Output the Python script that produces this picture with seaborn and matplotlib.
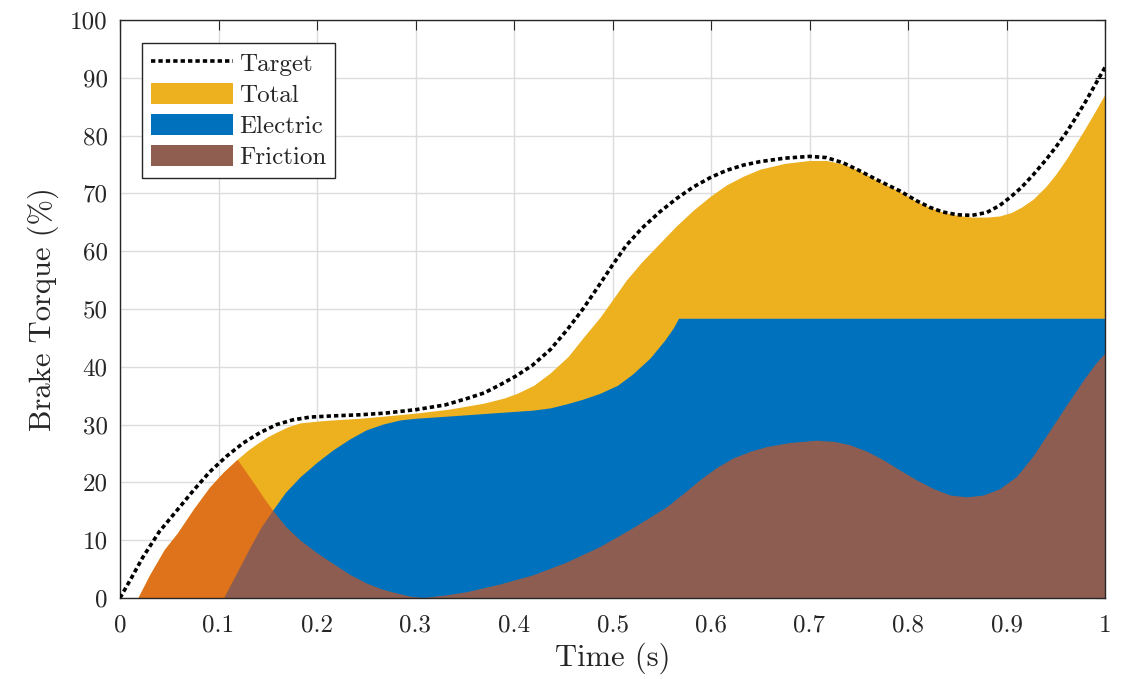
import numpy as np
import pandas as pd
import seaborn as sns
import matplotlib
matplotlib.use("Agg")
import matplotlib.pyplot as plt
from matplotlib.lines import Line2D
from matplotlib.patches import Patch

# ---- brake torque demand (%) over time (s) ----
t_target = [0.0, 0.012, 0.023, 0.04, 0.058, 0.075, 0.091, 0.108, 0.125, 0.142,
            0.159, 0.175, 0.193, 0.215, 0.244, 0.27, 0.301, 0.33, 0.352, 0.37,
            0.386, 0.402, 0.419, 0.437, 0.4535, 0.47, 0.484, 0.5, 0.514, 0.53,
            0.548, 0.565, 0.582, 0.6, 0.616, 0.633, 0.65, 0.675, 0.70, 0.717,
            0.734, 0.75, 0.768, 0.792, 0.809, 0.822, 0.835, 0.85, 0.865, 0.88,
            0.893, 0.905, 0.915, 0.927, 0.94, 0.95, 0.961, 0.97, 0.98, 0.99, 1.0]
target = [0.0, 3.6, 7.0, 11.5, 15.2, 18.7, 21.8, 24.5, 26.8, 28.6,
          30.0, 30.8, 31.3, 31.5, 31.7, 32.0, 32.6, 33.4, 34.5, 35.5,
          36.9, 38.4, 40.3, 43.0, 46.3, 50.0, 53.5, 57.6, 61.0, 64.0,
          66.8, 69.1, 71.1, 72.8, 74.0, 74.9, 75.5, 76.1, 76.4, 76.2,
          75.3, 74.0, 72.4, 70.4, 68.7, 67.6, 66.8, 66.3, 66.2, 66.7,
          67.9, 69.5, 71.0, 73.2, 75.8, 78.0, 80.6, 83.0, 85.8, 88.8, 91.8]

# ---- delivered total torque ----
t_total = [0.018, 0.03, 0.045, 0.058, 0.075, 0.091, 0.105, 0.119, 0.13, 0.14,
           0.15, 0.159, 0.17, 0.183, 0.2, 0.215, 0.244, 0.27, 0.301, 0.335,
           0.369, 0.39, 0.403, 0.42, 0.4365, 0.455, 0.47, 0.487, 0.5, 0.514,
           0.53, 0.548, 0.565, 0.582, 0.6, 0.616, 0.633, 0.65, 0.675, 0.70,
           0.717, 0.734, 0.75, 0.768, 0.792, 0.809, 0.822, 0.835, 0.85, 0.865,
           0.88, 0.893, 0.905, 0.915, 0.927, 0.94, 0.95, 0.961, 0.97, 0.98,
           0.99, 1.0]
total = [0.0, 4.0, 8.4, 11.2, 15.5, 19.2, 21.8, 24.0, 25.6, 26.8,
         27.9, 28.7, 29.6, 30.3, 30.6, 30.8, 31.1, 31.5, 32.0, 32.7,
         33.7, 34.6, 35.4, 36.8, 38.9, 41.8, 45.0, 48.5, 51.6, 55.0,
         58.2, 61.4, 64.4, 67.1, 69.6, 71.5, 73.0, 74.2, 75.2, 75.7,
         75.7, 75.1, 74.0, 72.3, 70.3, 68.6, 67.6, 66.8, 66.2, 65.9,
         65.9, 66.1, 66.7, 67.6, 69.0, 71.2, 73.3, 76.0, 78.5, 81.3,
         84.2, 87.2]

# ---- electric (regenerative) torque, saturating at the motor limit ----
t_elec = [0.105, 0.118, 0.132, 0.143, 0.155, 0.168, 0.183, 0.2, 0.216, 0.233,
          0.25, 0.267, 0.284, 0.3, 0.318, 0.352, 0.385, 0.419, 0.437, 0.4535,
          0.47, 0.487, 0.505, 0.52, 0.538, 0.553, 0.562, 0.567, 1.0]
electric = [0.0, 4.2, 8.8, 12.2, 15.2, 18.3, 21.0, 23.5, 25.6, 27.5,
            29.1, 30.1, 30.8, 31.1, 31.3, 31.7, 32.1, 32.5, 32.9, 33.6,
            34.4, 35.4, 36.8, 38.7, 41.5, 44.6, 46.8, 48.4, 48.4]

# ---- friction torque ----
t_fric = [0.018, 0.03, 0.045, 0.058, 0.075, 0.091, 0.105, 0.119, 0.128, 0.137,
          0.146, 0.155, 0.168, 0.183, 0.2, 0.216, 0.233, 0.25, 0.265, 0.28,
          0.295, 0.308, 0.33, 0.352, 0.385, 0.419, 0.453, 0.487, 0.52, 0.555,
          0.572, 0.589, 0.605, 0.622, 0.64, 0.6565, 0.68, 0.707, 0.725, 0.741,
          0.758, 0.775, 0.792, 0.809, 0.826, 0.843, 0.86, 0.876, 0.893, 0.91,
          0.927, 0.944, 0.961, 0.978, 0.99, 1.0]
friction = [0.0, 4.0, 8.4, 11.2, 15.5, 19.2, 21.8, 24.0, 21.8, 19.6,
            17.3, 15.2, 12.4, 10.0, 7.8, 6.0, 4.1, 2.6, 1.6, 0.9,
            0.3, 0.1, 0.5, 1.1, 2.4, 4.0, 6.2, 8.9, 12.1, 15.8,
            18.1, 20.5, 22.5, 24.2, 25.4, 26.2, 26.9, 27.3, 27.1, 26.5,
            25.4, 23.9, 22.1, 20.4, 18.9, 17.8, 17.5, 17.8, 18.9, 21.0,
            24.6, 29.0, 33.4, 37.7, 40.5, 42.4]

x_ticks = [0, 0.1, 0.2, 0.3, 0.4, 0.5, 0.6, 0.7, 0.8, 0.9, 1.0]
x_tick_labels = ["0", "0.1", "0.2", "0.3", "0.4", "0.5", "0.6", "0.7", "0.8", "0.9", "1"]
y_ticks = list(range(0, 101, 10))

# MATLAB-like palette
c_total = "#EDB120"
c_elec = "#0072BD"
c_fric = "#D95319"
fric_alpha = 0.66
c_fric_legend = tuple(fric_alpha * np.array(matplotlib.colors.to_rgb(c_fric))
                      + (1 - fric_alpha) * np.array(matplotlib.colors.to_rgb(c_elec)))
c_axis = "#262626"

sns.set_theme(style="whitegrid")
plt.rcParams["font.family"] = ["cmr10", "DejaVu Serif"]
plt.rcParams["mathtext.fontset"] = "cm"
plt.rcParams["axes.formatter.use_mathtext"] = True

fig = plt.figure(figsize=(11.24, 6.79), dpi=100)
ax = fig.add_axes([120 / 1124, 1 - 598 / 679, 985 / 1124, 578 / 679])
ax.set_facecolor("white")
ax.set_axisbelow(True)
ax.grid(True, color="#dcdcdc", linewidth=1.0)

ax.fill_between(t_total, 0, total, color=c_total, linewidth=0)
ax.fill_between(t_elec, 0, electric, color=c_elec, linewidth=0)
ax.fill_between(t_fric, 0, friction, color=c_fric, alpha=fric_alpha, linewidth=0)

df_target = pd.DataFrame({"t": t_target, "torque": target})
sns.lineplot(data=df_target, x="t", y="torque", ax=ax, color="black",
             linewidth=2.6, zorder=5)
ax.lines[-1].set_dashes((1.2, 0.85))

ax.set_xlim(0, 1)
ax.set_ylim(0, 100)
ax.set_xticks(x_ticks)
ax.set_xticklabels(x_tick_labels)
ax.set_yticks(y_ticks)
ax.set_yticklabels([str(v) for v in y_ticks])
ax.tick_params(axis="both", which="both", direction="in", length=7, width=0.8,
               top=True, right=True, labelsize=18, colors=c_axis,
               labelcolor=c_axis)
ax.tick_params(axis="x", pad=12)
ax.tick_params(axis="y", pad=9)
for s in ax.spines.values():
    s.set_color(c_axis)
    s.set_linewidth(1.0)

ax.set_xlabel("Time (s)", fontsize=22, color=c_axis, labelpad=4)
ax.set_ylabel("Brake Torque (%)", fontsize=22, color=c_axis, labelpad=8)

handles = [
    Line2D([0], [0], color="black", linewidth=2.6, dashes=(1.2, 0.85)),
    Patch(facecolor=c_total, edgecolor="none"),
    Patch(facecolor=c_elec, edgecolor="none"),
    Patch(facecolor=c_fric_legend, edgecolor="none"),
]
leg = ax.legend(handles, ["Target", "Total", "Electric", "Friction"],
                loc="upper left", bbox_to_anchor=(0.0223, 0.960), fontsize=18,
                frameon=True, fancybox=False, framealpha=1, edgecolor=c_axis,
                handlelength=3.3, handleheight=0.9, labelspacing=0.28,
                handletextpad=0.25, borderpad=0.35, borderaxespad=0.0)
leg.get_frame().set_linewidth(1.0)

fig.savefig("out.png", dpi=100, facecolor="white")
